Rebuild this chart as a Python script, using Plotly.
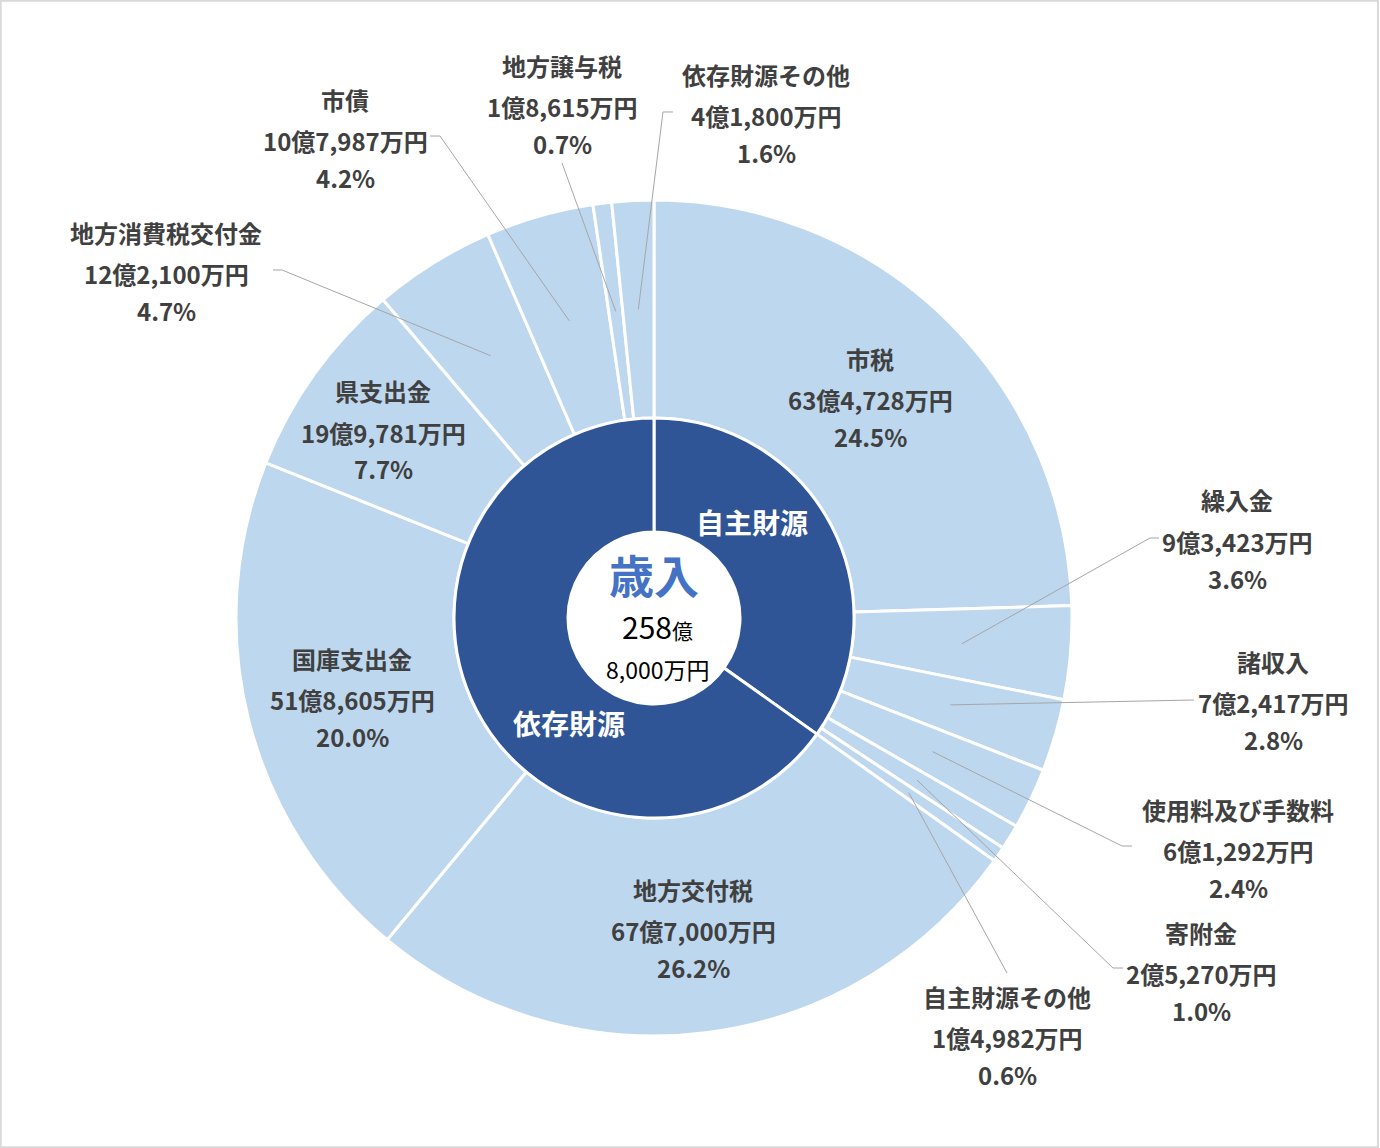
import math
import plotly.graph_objects as go

# 歳入の内訳（単位：万円）
categories = ["市税", "繰入金", "諸収入", "使用料及び手数料", "寄附金", "自主財源その他",
              "地方交付税", "国庫支出金", "県支出金", "地方消費税交付金", "市債", "地方譲与税", "依存財源その他"]
amounts = [634728, 93423, 72417, 61292, 25270, 14982,
           677000, 518605, 199781, 122100, 107987, 18615, 41800]
groups = ["自主財源"] * 6 + ["依存財源"] * 7
group_names = ["自主財源", "依存財源"]

W, H = 1380, 1148
CX, CY = 654, 618
R_OUT, R_MID, R_IN = 418, 200, 86
FONT = "Noto Sans CJK JP"
TXT = "#404040"

# ラベルの位置（1行目の中心, px）と引き出し線の折れ点
label_pos = {
    "市税": (870, 358), "繰入金": (1237, 500), "諸収入": (1273, 661),
    "使用料及び手数料": (1238, 809), "寄附金": (1201, 932), "自主財源その他": (1007, 996),
    "地方交付税": (693, 889), "国庫支出金": (352, 658), "県支出金": (383, 391),
    "地方消費税交付金": (166, 232), "市債": (345, 99), "地方譲与税": (562, 65),
    "依存財源その他": (766, 74),
}
leaders = {
    "繰入金": [(1150, 538), (1159, 538)],
    "諸収入": [(1194, 700)],
    "使用料及び手数料": [(1122, 846), (1132, 846)],
    "寄附金": [(1113, 968), (1123, 968)],
    "自主財源その他": [(1007, 973)],
    "地方消費税交付金": [(282, 270), (273, 270)],
    "市債": [(440, 136), (430, 136)],
    "地方譲与税": [(562, 163)],
    "依存財源その他": [(663, 112), (673, 112)],
}


def px(x, y):
    return x / W, 1 - y / H


def yen(v):
    oku, man = divmod(v, 10000)
    return f"{oku}億{man:,}万円"


total = sum(amounts)
group_amounts = [sum(a for a, g in zip(amounts, groups) if g == n) for n in group_names]


def dom(r):
    return dict(x=[(CX - r) / W, (CX + r) / W], y=[(H - CY - r) / H, (H - CY + r) / H])


fig = go.Figure()
fig.add_trace(go.Pie(
    labels=categories, values=amounts, sort=False, direction="clockwise", rotation=0,
    hole=R_MID / R_OUT, domain=dom(R_OUT), textinfo="none",
    marker=dict(colors=["#BDD7EE"] * len(amounts), line=dict(color="white", width=3)),
))
fig.add_trace(go.Pie(
    labels=group_names, values=group_amounts, sort=False, direction="clockwise", rotation=0,
    hole=R_IN / R_MID, domain=dom(R_MID), textinfo="none",
    marker=dict(colors=["#2F5597", "#2F5597"], line=dict(color="white", width=3)),
))

ann = []
shapes = []
cum = 0
for name, v in zip(categories, amounts):
    mid = (cum + v / 2) / total * 2 * math.pi
    cum += v
    x0, y0 = label_pos[name]
    lines = [(name, 0), (yen(v), 41), (f"{v / total * 100:.1f}%", 78)]
    for t, dy in lines:
        ax, ay = px(x0, y0 + dy)
        ann.append(dict(x=ax, y=ay, xref="paper", yref="paper", text=t, showarrow=False,
                        xanchor="center", yanchor="middle",
                        font=dict(family=FONT, size=24, color=TXT, weight="bold")))
    if name in leaders:
        r = (R_OUT + R_MID) / 2
        pts = [(CX + r * math.sin(mid), CY - r * math.cos(mid))] + leaders[name]
        path = " ".join(("M" if i == 0 else "L") + f" {px(*p)[0]:.5f},{px(*p)[1]:.5f}"
                        for i, p in enumerate(pts))
        shapes.append(dict(type="path", xref="paper", yref="paper", path=path,
                           line=dict(color="#A6A6A6", width=1)))

# 内側リングのラベル
for name, (x, y) in zip(group_names, [(752, 522), (569, 723)]):
    ax, ay = px(x, y)
    ann.append(dict(x=ax, y=ay, xref="paper", yref="paper", text=name, showarrow=False,
                    font=dict(family=FONT, size=28, color="white", weight="bold")))

# 中央
oku, man = divmod(total, 10000)
for t, (x, y), size, color, wt in [
    ("歳入", (654, 574), 45, "#4472C4", "bold"),
    (f"{oku}<span style='font-size:21px'>億</span>", (657, 626), 30, "black", "normal"),
    (f"{man:,}万円", (657, 669), 23, "black", "normal"),
]:
    ax, ay = px(x, y)
    ann.append(dict(x=ax, y=ay, xref="paper", yref="paper", text=t, showarrow=False,
                    font=dict(family=FONT, size=size, color=color, weight=wt)))

shapes.append(dict(type="rect", xref="paper", yref="paper", x0=0.0005, y0=0.0007, x1=0.9985, y1=0.9993,
                   line=dict(color="#D9D9D9", width=2)))

fig.update_layout(
    width=W, height=H, margin=dict(l=0, r=0, t=0, b=0),
    paper_bgcolor="white", plot_bgcolor="white", showlegend=False,
    annotations=ann, shapes=shapes,
)
fig.write_html("out.html", config={"displayModeBar": False},
               post_script="document.body.style.margin='0';")
